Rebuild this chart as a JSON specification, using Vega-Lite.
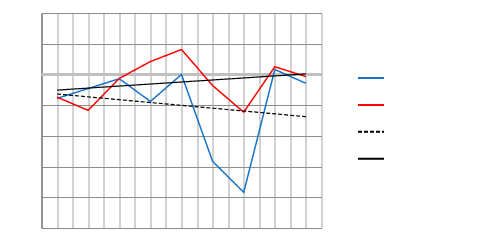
{
  "$schema": "https://vega.github.io/schema/vega-lite/v6.json",
  "width": 280,
  "height": 215,
  "autosize": "none",
  "padding": {"left": 41.5, "top": 13, "right": 159.5, "bottom": 13},
  "background": "white",
  "config": {
    "view": {"stroke": null},
    "axisX": {"grid": true, "gridColor": "#a6a6a6", "gridWidth": 1, "labels": false, "ticks": false, "domain": false, "title": null},
    "axisY": {"grid": true, "gridColor": "#8c8c8c", "gridWidth": 1, "labels": false, "ticks": false, "domain": true, "domainColor": "#7f7f7f", "domainWidth": 1.5, "title": null},
    "legend": {"padding": 0}
  },
  "data": {
    "values": [
      {"x": 1, "series": "Series1", "value": -0.78},
      {"x": 2, "series": "Series1", "value": -0.46},
      {"x": 3, "series": "Series1", "value": -0.14},
      {"x": 4, "series": "Series1", "value": -0.88},
      {"x": 5, "series": "Series1", "value": 0.0},
      {"x": 6, "series": "Series1", "value": -2.83},
      {"x": 7, "series": "Series1", "value": -3.84},
      {"x": 8, "series": "Series1", "value": 0.16},
      {"x": 9, "series": "Series1", "value": -0.29},
      {"x": 1, "series": "Series2", "value": -0.74},
      {"x": 2, "series": "Series2", "value": -1.17},
      {"x": 3, "series": "Series2", "value": -0.13},
      {"x": 4, "series": "Series2", "value": 0.42},
      {"x": 5, "series": "Series2", "value": 0.81},
      {"x": 6, "series": "Series2", "value": -0.36},
      {"x": 7, "series": "Series2", "value": -1.23},
      {"x": 8, "series": "Series2", "value": 0.25},
      {"x": 9, "series": "Series2", "value": -0.07}
    ]
  },
  "layer": [
    {
      "data": {"values": [{"v": 0}]},
      "mark": {"type": "rule", "color": "#c0c0c0", "strokeWidth": 3},
      "encoding": {"y": {"field": "v", "type": "quantitative", "scale": {"domain": [-5, 2]}}}
    },
    {
      "mark": {"type": "line", "strokeWidth": 1.5},
      "encoding": {
        "x": {"field": "x", "type": "quantitative", "scale": {"domain": [0.5, 9.5], "nice": false, "zero": false},
          "axis": {"values": [0.5,1,1.5,2,2.5,3,3.5,4,4.5,5,5.5,6,6.5,7,7.5,8,8.5,9,9.5], "tickCount": 50, "labelOverlap": false}},
        "y": {"field": "value", "type": "quantitative", "scale": {"domain": [-5, 2], "nice": false},
          "axis": {"values": [-5,-4,-3,-2,-1,0,1,2], "tickCount": 50, "labelOverlap": false}},
        "color": {"field": "series", "type": "nominal", "scale": {"domain": ["Series1", "Series2", "Linear (Series1)", "Linear (Series2)"], "range": ["#1673c9", "#ff0000", "#000000", "#000000"]},
          "legend": {"orient": "none", "legendX": 315.5, "legendY": 51, "title": null, "symbolType": "stroke", "symbolSize": 676, "symbolStrokeWidth": 2, "labelOpacity": 0, "labelFontSize": 11, "rowPadding": 7.9}},
        "strokeDash": {"field": "series", "type": "nominal", "scale": {"domain": ["Series1", "Series2", "Linear (Series1)", "Linear (Series2)"], "range": [[1, 0], [1, 0], [4, 2], [1, 0]]},
          "legend": {"orient": "none", "legendX": 315.5, "legendY": 51, "title": null, "symbolType": "stroke", "symbolSize": 676, "symbolStrokeWidth": 2, "labelOpacity": 0, "labelFontSize": 11, "rowPadding": 7.9}}
      }
    },
    {
      "transform": [
        {"regression": "value", "on": "x", "groupby": ["series"]},
        {"calculate": "'Linear (' + datum.series + ')'", "as": "series"}
      ],
      "mark": {"type": "line", "strokeWidth": 1.2},
      "encoding": {
        "x": {"field": "x", "type": "quantitative"},
        "y": {"field": "value", "type": "quantitative"},
        "color": {"field": "series", "type": "nominal"},
        "strokeDash": {"field": "series", "type": "nominal"}
      }
    }
  ]
}
